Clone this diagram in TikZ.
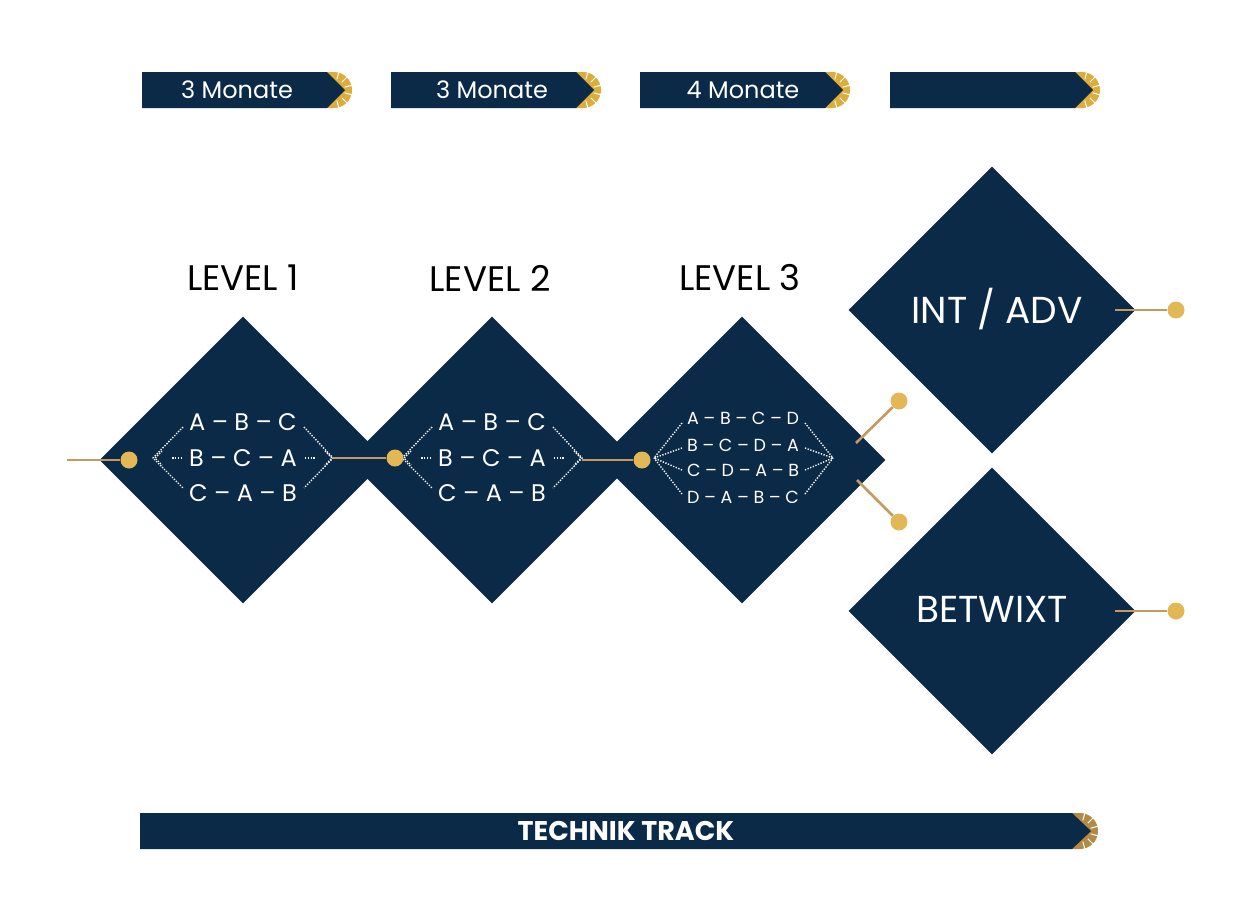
\documentclass[tikz,border=0pt]{standalone}
\usepackage{fontspec}
\setmainfont{Poppins}
\usepackage{tikz}
\usetikzlibrary{shapes.geometric}
\usetikzlibrary{positioning}

\definecolor{navy}{HTML}{0B2A48}
\definecolor{gold}{HTML}{E2B857}
\definecolor{goldbar}{HTML}{DDAD3B}
\definecolor{goldtrack}{HTML}{B28A44}
\definecolor{tan}{HTML}{C49A62}

\tikzset{
  lvl/.style={diamond, fill=navy, minimum size=287pt, inner sep=0pt},
  dot/.style={circle, fill=gold, minimum size=17pt, inner sep=0pt},
  wire/.style={draw=tan, line width=2.6pt},
  dots/.style={white, line width=1.4pt, dash pattern=on 1.3pt off 1.5pt},
  head/.style={text=black, font=\fontsize{35.5}{36}\selectfont},
  month/.style={text=white, font=\fontsize{24}{24}\selectfont},
  row/.style={text=white, font=\fontsize{24}{24}\selectfont},
  rowsmall/.style={text=white, font=\fontsize{17.5}{18}\selectfont},
  big/.style={text=white, font=\fontsize{37.5}{38}\selectfont},
  track/.style={text=white, font=\fontsize{27}{27}\selectfont\bfseries},
}

\begin{document}
\begin{tikzpicture}[x=1pt, y=-1pt]

\useasboundingbox (0,0) rectangle (1252,922);

% Month bars on top
\foreach \x/\c/\t in {142/237/3 Monate, 391/492/3 Monate, 640/743/4 Monate, 890/985/{}} {
  \fill[goldbar] (\x+185,72) -- (\x+192,72) arc[start angle=-90, end angle=90, radius=18] -- (\x+185,108) -- cycle;
  \foreach \a in {-75,-45,-15,15,45,75}
    \draw[white, line width=1pt] ([shift={(\a:11)}]\x+192,90) -- ([shift={(\a:18.5)}]\x+192,90);
  \fill[navy] (\x,72) -- (\x+185,72) -- (\x+203,90) -- (\x+185,108) -- (\x,108) -- cycle;
  \node[month] (m\x) at (\c,90) {\t};
}

% Level diamonds
\node[lvl] (lv1) at (243,460) {};
\node[lvl] (lv2) at (492,460) {};
\node[lvl] (lv3) at (742,460) {};
\node[lvl] (adv) at (992,310) {};
\node[lvl] (btw) at (992,611) {};

\node[head] (h1) at (243,278) {LEVEL 1};
\node[head] (h2) at (490,278) {LEVEL 2};
\node[head] (h3) at (740,277) {LEVEL 3};

\node[big] (tadv) at (997,309) {INT / ADV};
\node[big] (tbtw) at (992,609) {BETWIXT};

% Rotations of three
\foreach \c in {243,492} {
  \node[row] (ra\c) at (\c,422) {A – B – C};
  \node[row] (rb\c) at (\c,458) {B – C – A};
  \node[row] (rc\c) at (\c,493) {C – A – B};
  \draw[dots] (\c-60,427) -- (\c-90,458) -- (\c-60,488);
  \draw[dots] (\c-61,458) -- (\c-72,458);
  \draw[dots] (\c-81,451) -- (\c-88,458) -- (\c-81,465);
  \draw[dots] (\c+61,427) -- (\c+90,458) -- (\c+61,488);
  \draw[dots] (\c+62,458) -- (\c+73,458);
  \draw[dots] (\c+82,451) -- (\c+89,458) -- (\c+82,465);
}

% Rotations of four
\node[rowsmall] (s1) at (743,418) {A – B – C – D};
\node[rowsmall] (s2) at (743,445) {B – C – D – A};
\node[rowsmall] (s3) at (743,470) {C – D – A – B};
\node[rowsmall] (s4) at (743,497) {D – A – B – C};
\foreach \y in {423,448,470,494} {
  \draw[dots] (682,\y) -- (654,458);
  \draw[dots] (805,\y) -- (833,458);
}

% Connectors
\coordinate (in) at (67,460);
\coordinate (t1) at (333,458);
\coordinate (t2) at (582,460);
\coordinate (e1) at (856,443);
\coordinate (e2) at (857,480);
\coordinate (e3) at (1115,310);
\coordinate (e4) at (1115,611);

\node[dot] (p1) at (129,460) {};
\node[dot] (p2) at (395,458) {};
\node[dot] (p3) at (642,460) {};
\node[dot] (q1) at (899,401) {};
\node[dot] (q2) at (899,522) {};
\node[dot] (q3) at (1176,310) {};
\node[dot] (q4) at (1176,611) {};

\draw[wire] (in) -- (p1);
\draw[wire] (t1) -- (p2);
\draw[wire] (t2) -- (p3);
\draw[wire] (e1) -- (q1);
\draw[wire] (e2) -- (q2);
\draw[wire] (e3) -- (q3);
\draw[wire] (e4) -- (q4);

% Technik track
\fill[goldtrack] (1072,813) -- (1080,813) arc[start angle=-90, end angle=90, radius=18] -- (1072,849) -- cycle;
\foreach \a in {-75,-45,-15,15,45,75}
  \draw[white, line width=1pt] ([shift={(\a:11)}]1080,831) -- ([shift={(\a:18.5)}]1080,831);
\fill[navy] (140,813) -- (1072,813) -- (1091,831) -- (1072,849) -- (140,849) -- cycle;
\node[track] (tt) at (626,831) {TECHNIK TRACK};

\end{tikzpicture}
\end{document}
